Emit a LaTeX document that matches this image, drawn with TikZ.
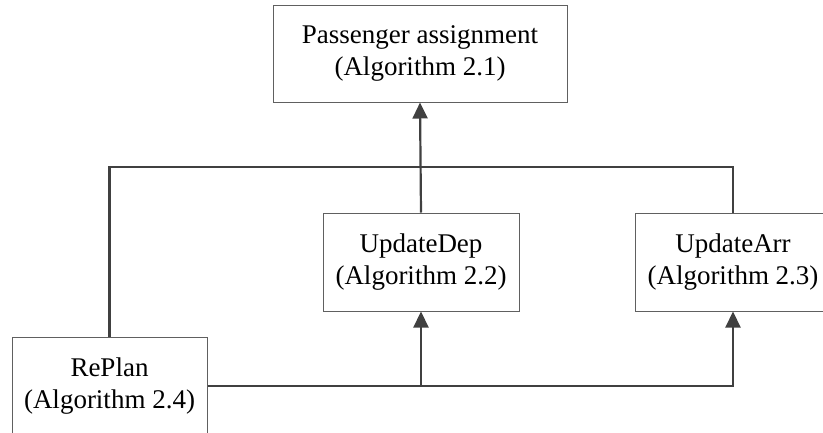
\documentclass[tikz,border=0pt]{standalone}
\usepackage{fontspec}
\setmainfont{Liberation Serif}
\usetikzlibrary{arrows.meta}
\definecolor{linegray}{HTML}{404040}
\definecolor{boxgray}{HTML}{606060}
\tikzset{
  algbox/.style={draw=boxgray, line width=1pt, fill=white, align=center,
    font=\fontsize{27}{32.5}\selectfont, inner sep=0pt, minimum width=196pt, minimum height=98pt},
  conn/.style={draw=linegray, line width=2.2pt},
  arr/.style={conn, -{Triangle[length=16pt,width=15pt]}}
}
\begin{document}
\begin{tikzpicture}[x=1pt,y=-1pt]
\useasboundingbox (0,0) rectangle (823,432);
\clip (0,0) rectangle (823,432);
\node[algbox, minimum width=294pt, minimum height=97pt] (pa) at (420,53.5) {Passenger assignment\\(Algorithm 2.1)};
\node[algbox] (ud) at (421,262) {UpdateDep\\(Algorithm 2.2)};
\node[algbox] (ua) at (733,262) {UpdateArr\\(Algorithm 2.3)};
\node[algbox, minimum width=195pt] (rp) at (109.5,386) {RePlan\\(Algorithm 2.4)};
\coordinate (top) at (109.5,167);
\coordinate (branch) at (ud.south |- rp.east);
\draw[conn] (rp.north) -- (top) -| (ua.north);
\draw[arr] (ud.north) -- (pa.south);
\draw[arr] (rp.east) -| (ua.south);
\draw[arr] (branch) -- (ud.south);
\end{tikzpicture}
\end{document}
